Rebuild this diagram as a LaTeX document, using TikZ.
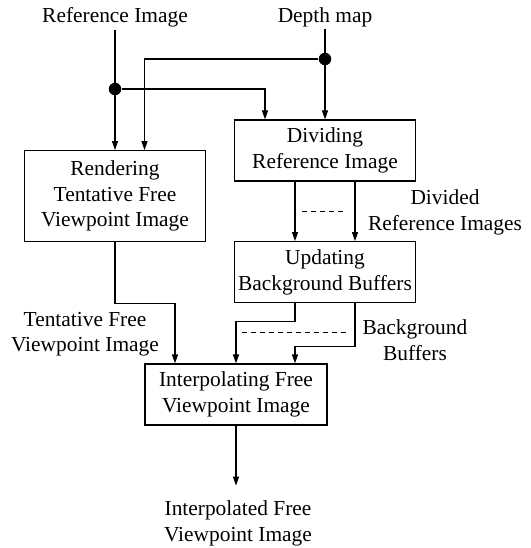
\documentclass[tikz,border=0pt]{standalone}
\usepackage{fontspec}
\setmainfont{Liberation Serif}
\usetikzlibrary{arrows.meta,calc}

\begin{document}
\begin{tikzpicture}[x=1pt,y=-1pt,line width=1.2pt,
  font=\fontsize{21.4}{25.5}\selectfont,
  box/.style={draw, align=center, minimum width=181pt, minimum height=61pt, inner sep=0pt},
  lbl/.style={align=center, inner sep=1.5pt},
  arr/.style={-{Triangle[length=9pt,width=6pt]}},
  jdot/.style={circle, fill, inner sep=0pt, minimum size=12.5pt}]
  \useasboundingbox (0,0) rectangle (530,548);

  % inputs
  \node[lbl] (refin) at (115,17.7) {Reference Image};
  \node[lbl] (depthin) at (325,17.7) {Depth map};

  % processing blocks
  \node[box, minimum height=91pt] (rend) at (115,196.2) {Rendering\\Tentative Free\\Viewpoint Image};
  \node[box] (div) at (325,150.5) {Dividing\\Reference Image};
  \node[box] (upd) at (325,272.2) {Updating\\Background Buffers};
  \node[box, minimum width=182pt] (interp) at (236,394.5) {Interpolating Free\\Viewpoint Image};

  % labels on the data
  \node[lbl] (divlbl) at (445,212.5) {Divided\\Reference Images};
  \node[lbl] (tentlbl) at (85,334.3) {Tentative Free\\Viewpoint Image};
  \node[lbl] (buflbl) at (415,340.3) {Background\\Buffers};
  \node[lbl] (outlbl) at (238,523.5) {Interpolated Free\\Viewpoint Image};

  % junctions
  \node[jdot] (refdot) at (115,89) {};
  \node[jdot] (depthdot) at (325,59) {};

  % input lines
  \draw[arr] (refin) -- (rend);
  \draw[arr] (depthin) -- (div);
  \draw[arr] (refdot) -| ([xshift=-60pt]div.north);
  \draw[arr] (depthdot) -| ([xshift=29.5pt]rend.north);

  % divided images
  \draw[arr] ([xshift=-30pt]div.south) -- ([xshift=-30pt]upd.north);
  \draw[arr] ([xshift=30pt]div.south) -- ([xshift=30pt]upd.north);
  \coordinate (divmid) at ($(div.south)!0.5!(upd.north)$);
  \draw[dashed, line width=0.9pt, dash pattern=on 5pt off 4pt]
    ([xshift=-23pt]divmid) -- ([xshift=20pt]divmid);

  % tentative image
  \coordinate (tent) at ([xshift=-61pt]interp.north);
  \draw[arr] (rend.south) |- (tent |- upd.south) -- (tent);

  % background buffers
  \draw[arr] ([xshift=-30pt]upd.south) -- ++(0,18.3) -| (interp.north);
  \draw[arr] ([xshift=30pt]upd.south) -- ++(0,43) -| ([xshift=-30pt]upd.south |- interp.north);
  \draw[dashed, line width=0.9pt, dash pattern=on 5pt off 4pt]
    (241.7,332.7) -- (348,332.7);

  % output
  \draw[arr] (interp.south) -- ++(0,60);
\end{tikzpicture}
\end{document}
